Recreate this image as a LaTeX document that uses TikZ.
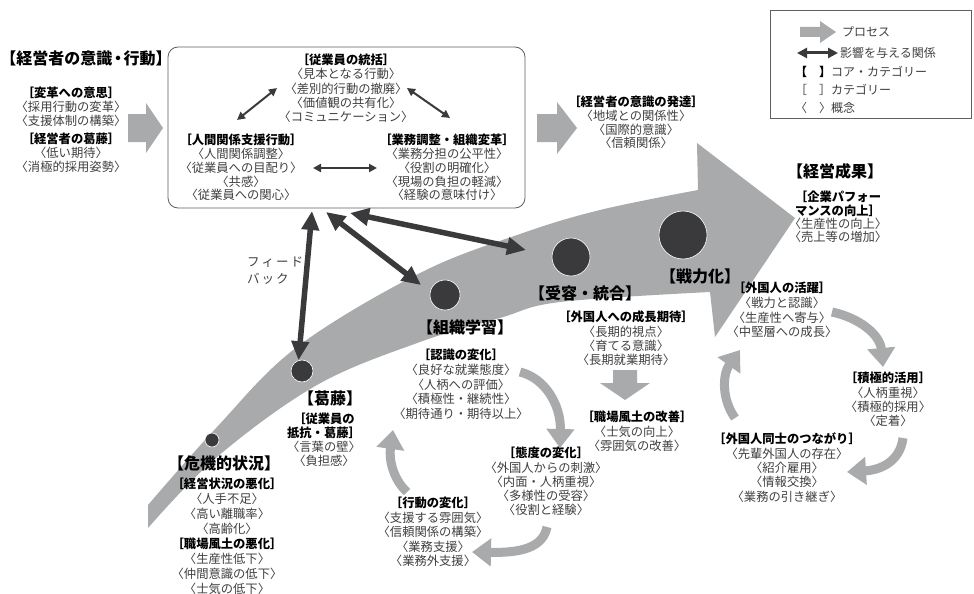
\documentclass[tikz,border=0pt]{standalone}
\usepackage{fontspec}
\setmainfont{Noto Sans CJK JP}
\usetikzlibrary{arrows.meta}
\definecolor{band}{RGB}{169,170,172}
\definecolor{dk}{RGB}{58,58,60}
\definecolor{txt}{RGB}{64,64,64}
\definecolor{boxc}{RGB}{95,95,95}
\newcommand\catg[1]{{\bfseries\color{black}#1}}
\newcommand\lsz[1]{\fontsize{12.3}{#1}\selectfont}
\begin{document}
\begin{tikzpicture}[x=1pt,y=-1pt,
  core/.style={inner sep=0pt,font=\fontsize{16}{19}\selectfont\bfseries,text=black},
  blk/.style={inner sep=0pt,align=center,anchor=north,font=\lsz{14.5},text=txt},
  dot/.style={circle,fill=dk,draw=white,line width=0.6pt,inner sep=0pt},
  cyc/.style={draw=band,line width=9pt,-{Triangle[length=19pt,width=27pt]}},
  fbk/.style={draw=dk,line width=5.5pt,{Triangle[length=19pt,width=17pt]}-{Triangle[length=19pt,width=17pt]}},
  rel/.style={draw=dk,line width=2pt,{Triangle[length=8pt,width=8pt]}-{Triangle[length=8pt,width=8pt]}},
  lgd/.style={inner sep=0pt,anchor=west,font=\fontsize{12}{14}\selectfont,text=txt}
]
\useasboundingbox (0,0) rectangle (974,594);
\fill[white] (0,0) rectangle (974,594);

% big process arrow
\fill[band] plot[smooth,tension=0.6] coordinates {(148,505) (217,427) (297,347) (420,273) (520,234) (600,210) (698,190)}
  -- (697,143) -- (795,218) -- (715,337)
  -- plot[smooth,tension=0.6] coordinates {(710,292) (560,302) (500,318) (420,342) (317,385) (217,457) (148,528)} -- cycle;

% block arrows
\fill[band] (128,114) -- (146,114) -- (146,103) -- (163,128) -- (146,153) -- (146,142) -- (128,142) -- cycle;
\fill[band] (537,114) -- (557,114) -- (557,102) -- (577,128) -- (557,154) -- (557,142) -- (537,142) -- cycle;
\fill[band] (613,370) -- (637,370) -- (637,383) -- (650,383) -- (625,400) -- (600,383) -- (613,383) -- cycle;

% dots
\node[dot,minimum size=14pt] (d1) at (212,440) {};
\node[dot,minimum size=22pt] (d2) at (302,371) {};
\node[dot,minimum size=30pt] (d3) at (445,295) {};
\node[dot,minimum size=38pt] (d4) at (571,257) {};
\node[dot,minimum size=48pt] (d5) at (683,235) {};

% management box
\node[draw=boxc,rounded corners=10pt,line width=0.8pt,minimum width=357pt,minimum height=161pt,inner sep=0pt] (box) at (346.5,127.5) {};

% texts
\node[core,font=\fontsize{16}{19}\selectfont\bfseries] (coreMgr) at (86,58) {【経営者の意識\kern-2.5pt・\kern-2.5pt行動】};
\node[blk,font=\lsz{14}] (mgrA) at (71,87) {\catg{［変革への意思］}\\〈採用行動の変革〉\\〈支援体制の構築〉\\[4pt]\catg{［経営者の葛藤］}\\〈低い期待〉\\〈消極的採用姿勢〉};

\node[blk,font=\lsz{14.25}] (unify) at (346,54) {\catg{［従業員の統括］}\\〈見本となる行動〉\\〈差別的行動の撤廃〉\\〈価値観の共有化〉\\〈コミュニケーション〉};
\node[blk,font=\lsz{13.8}] (human) at (241,134) {\catg{［人間関係支援行動］}\\〈人間関係調整〉\\〈従業員への目配り〉\\〈共感〉\\〈従業員への関心〉};
\node[blk,font=\lsz{13.8}] (task) at (447,134) {\catg{［業務調整・組織変革］}\\〈業務分担の公平性〉\\〈役割の明確化〉\\〈現場の負担の軽減〉\\〈経験の意味付け〉};
\node[blk,font=\lsz{13.7}] (dev) at (636,96) {\catg{［経営者の意識の発達］}\\〈地域との関係性〉\\〈国際的意識〉\\〈信頼関係〉};

\node[core] (coreRes) at (835,171) {【経営成果】};
\node[blk,font=\lsz{13.3}] (perf) at (838,191) {\catg{［企業パフォー}\\\catg{マンスの向上］}\\〈生産性の向上〉\\〈売上等の増加〉};

\node[core] (coreCrisis) at (224,463) {【危機的状況】};
\node[blk,font=\lsz{14.9}] (crisis) at (227,478) {\catg{［経営状況の悪化］}\\〈人手不足〉\\〈高い離職率〉\\〈高齢化〉\\\catg{［職場風土の悪化］}\\〈生産性低下〉\\〈仲間意識の低下〉\\〈士気の低下〉};

\node[core] (coreConf) at (330,398) {【葛藤】};
\node[blk,font=\lsz{13.8}] (conf) at (324,413) {\catg{［従業員の}\\\catg{抵抗・葛藤］}\\〈言葉の壁〉\\〈負担感〉};

\node[core] (coreLearn) at (465,327) {【組織学習】};
\node[blk,font=\lsz{14.75}] (recog) at (461,349) {\catg{［認識の変化］}\\〈良好な就業態度〉\\〈人柄への評価〉\\〈積極性・継続性〉\\〈期待通り・期待以上〉};
\node[blk,font=\lsz{14.25}] (attit) at (546,447) {\catg{［態度の変化］}\\〈外国人からの刺激〉\\〈内面・人柄重視〉\\〈多様性の受容〉\\〈役割と経験〉};
\node[blk,font=\lsz{14.5}] (behav) at (433,497) {\catg{［行動の変化］}\\〈支援する雰囲気〉\\〈信頼関係の構築〉\\〈業務支援〉\\〈業務外支援〉};

\node[core] (coreAcc) at (585,293) {【受容・統合】};
\node[blk,font=\lsz{14.3}] (expect) at (626,311) {\catg{［外国人への成長期待］}\\〈長期的視点〉\\〈育てる意識〉\\〈長期就業期待〉};
\node[blk,font=\lsz{14.5}] (climate) at (637,411) {\catg{［職場風土の改善］}\\〈士気の向上〉\\〈雰囲気の改善〉};

\node[core] (coreForce) at (700,276) {【戦力化】};
\node[blk,font=\lsz{14.7}] (active) at (782,282) {\catg{［外国人の活躍］}\\〈戦力と認識〉\\〈生産性へ寄与〉\\〈中堅層への成長〉};
\node[blk,font=\lsz{14.3}] (posit) at (888,372) {\catg{［積極的活用］}\\〈人柄重視〉\\〈積極的採用〉\\〈定着〉};
\node[blk,font=\lsz{14.3}] (peer) at (787,433) {\catg{［外国人同士のつながり］}\\〈先輩外国人の存在〉\\〈紹介雇用〉\\〈情報交換〉\\〈業務の引き継ぎ〉};

\node[inner sep=0pt,align=left,anchor=north west,font=\fontsize{12.5}{17}\selectfont,text=txt] (fbtxt) at (247,257) {フ\hspace{2pt}ィ\hspace{2pt}ー\hspace{2pt}ド\\バ\hspace{2pt}ッ\hspace{2pt}ク};

% relations in box
\coordinate (r1a) at (237,120); \coordinate (r1b) at (277,88);
\coordinate (r2a) at (407,88); \coordinate (r2b) at (450,118);
\coordinate (r3a) at (313,168); \coordinate (r3b) at (377,168);
\draw[rel] (r1a) -- (r1b);
\draw[rel] (r2a) -- (r2b);
\draw[rel,line width=2.8pt] (r3a) -- (r3b);

% feedback arrows
\coordinate (fa) at (312,211);
\coordinate (fb) at (326,212);
\coordinate (fc) at (350,213);
\coordinate (fbend) at (421,285);
\coordinate (fcend) at (526,250);
\draw[fbk] (fa) -- (d2.108);
\draw[fbk] (fb) -- (fbend);
\draw[fbk] (fc) -- (fcend);

% cycle arrows left
\coordinate (c1s) at (520,372); \coordinate (c1e) at (560,448);
\coordinate (c2s) at (547,527); \coordinate (c2e) at (472,552);
\coordinate (c3s) at (407,492); \coordinate (c3e) at (393,430);
\draw[cyc] (c1s) .. controls (545,378) and (561,405) .. (c1e);
\draw[cyc] (c2s) .. controls (543,548) and (520,553) .. (c2e);
\draw[cyc] (c3s) .. controls (392,478) and (389,458) .. (c3e);
% cycle arrows right
\coordinate (k1s) at (832,312); \coordinate (k1e) at (883,367);
\coordinate (k2s) at (903,438); \coordinate (k2e) at (847,472);
\coordinate (k3s) at (735,418); \coordinate (k3e) at (740,350);
\draw[cyc] (k1s) .. controls (860,318) and (880,335) .. (k1e);
\draw[cyc] (k2s) .. controls (900,462) and (880,470) .. (k2e);
\draw[cyc] (k3s) .. controls (722,400) and (722,375) .. (k3e);

% legend
\node[draw=boxc,line width=0.7pt,minimum width=201pt,minimum height=108pt,inner sep=0pt] (legend) at (870.5,64) {};
\fill[band] (800,27) -- (820,27) -- (820,21) -- (836,32) -- (820,43) -- (820,37) -- (800,37) -- cycle;
\node[lgd] (lg1) at (842,32) {プロセス};
\coordinate (lga) at (797,53); \coordinate (lgb) at (838,53);
\draw[draw=dk,line width=3pt,{Triangle[length=10pt,width=10pt]}-{Triangle[length=10pt,width=10pt]}] (lga) -- (lgb);
\node[lgd] (lg2) at (840,53) {影響を与える関係};
\node[lgd] (lg3) at (795,72) {\catg{【\hspace{12pt}】}コア・カテゴリー};
\node[lgd] (lg4) at (795,90) {［\hspace{12pt}］カテゴリー};
\node[lgd] (lg5) at (795,108) {〈\hspace{12pt}〉概念};
\end{tikzpicture}
\end{document}
